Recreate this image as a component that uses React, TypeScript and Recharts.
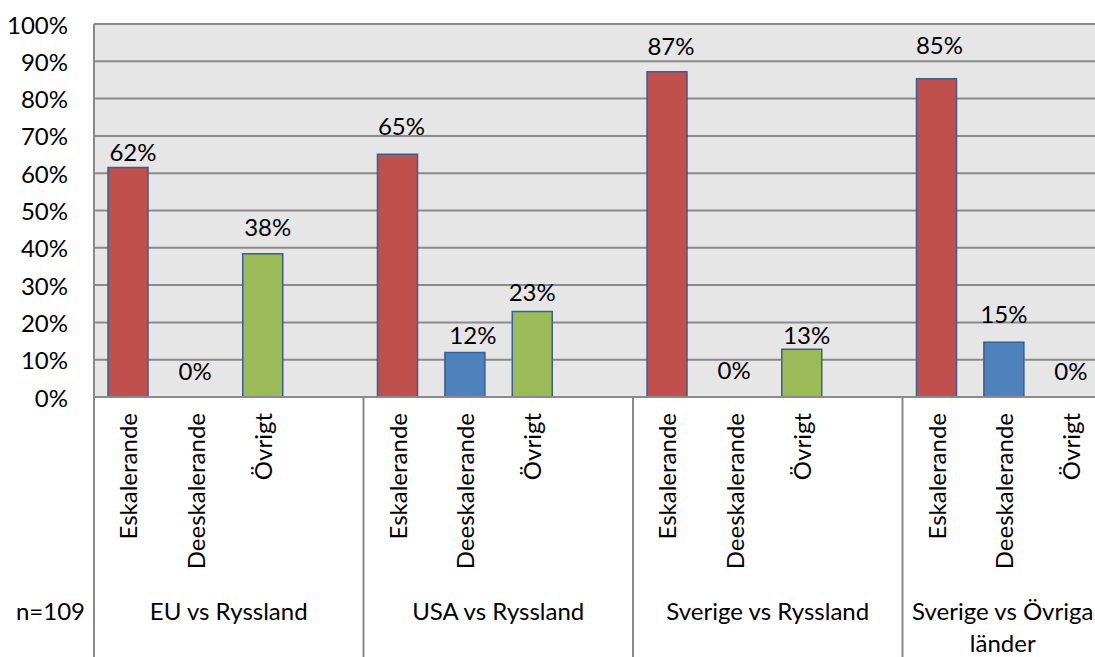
import React from 'react';
import { BarChart, Bar, XAxis, YAxis, CartesianGrid, Cell, LabelList } from 'recharts';

// ---- data ----
const groups = ['EU vs Ryssland', 'USA vs Ryssland', 'Sverige vs Ryssland', 'Sverige vs Övriga länder'];
const groupLabelLines = [['EU vs Ryssland'], ['USA vs Ryssland'], ['Sverige vs Ryssland'], ['Sverige vs Övriga', 'länder']];
const responses = ['Eskalerande', 'Deeskalerande', 'Övrigt'];
const eskalerande = [61.5, 65.1, 87.2, 85.3];
const deeskalerande = [0, 11.9, 0, 14.7];
const ovrigt = [38.4, 22.9, 12.8, 0];
const yTicks = [0, 10, 20, 30, 40, 50, 60, 70, 80, 90, 100];
const sampleLabel = 'n=109';

// ---- style ----
const COLORS: Record<string, string> = {
  Eskalerande: '#C0504D',
  Deeskalerande: '#4F81BD',
  'Övrigt': '#9BBB59',
};
const FONT = "Lato, 'Open Sans', sans-serif";
const FS = 24;
const VIEW_W = 1095;
const VIEW_H = 657;
const CHART_W = 1200;
const LEFT = 94;
const RIGHT_M = 28;
const TOP = 24;
const XAXIS_H = 260;
const AXIS_Y = VIEW_H - XAXIS_H;
const SLOTS_PER_GROUP = 4;
const GRID = '#8A8A8A';
// label nudges per slot: [dx, lift above bar top]
const labelNudge: [number, number][] = [
  [5, 16], [0, 27], [5, 27], [0, 0],
  [4, 29], [8, 18], [0, 20], [0, 0],
  [4, 26], [0, 28], [5, 15], [0, 0],
  [3, 34], [0, 29], [0, 27], [0, 0],
];

type Row = { key: string; group: number; resp: string; value: number | null };
const rows: Row[] = [];
groups.forEach((g, gi) => {
  const vals = [eskalerande[gi], deeskalerande[gi], ovrigt[gi]];
  responses.forEach((r, ri) => rows.push({ key: `${gi}-${ri}`, group: gi, resp: r, value: vals[ri] }));
  rows.push({ key: `${gi}-gap`, group: gi, resp: '', value: null });
});

const SLOT = (CHART_W - LEFT - RIGHT_M) / rows.length;
const slotOf = (cx: number) => Math.round((cx - LEFT) / SLOT - 0.5);

const ValueText = ({ cx, top, value, slot }: { cx: number; top: number; value: number; slot: number }) => {
  const [dx, lift] = labelNudge[slot] || [0, 20];
  return (
    <text x={cx + dx} y={top - lift} textAnchor="middle" dominantBaseline="central" fontFamily={FONT} fontSize={FS} fill="#000">
      {Math.round(value)}%
    </text>
  );
};

const YTick = (props: any) => {
  const { y, payload } = props;
  return (
    <text x={LEFT - 26} y={y} textAnchor="end" dominantBaseline="central" fontFamily={FONT} fontSize={FS} fill="#000">
      {payload.value}%
    </text>
  );
};

const XTick = (props: any) => {
  const { x, index } = props;
  const row = rows[index];
  if (!row) return null;
  const parts: React.ReactNode[] = [];
  if (row.resp) {
    parts.push(
      <text
        key="r"
        x={x}
        y={AXIS_Y + 16}
        transform={`rotate(-90 ${x} ${AXIS_Y + 16})`}
        textAnchor="end"
        dominantBaseline="central"
        fontFamily={FONT}
        fontSize={FS}
        fill="#000"
      >
        {row.resp}
      </text>
    );
  }
  // zero-height bars get no LabelList entry, so their value label is drawn at the axis baseline here
  if (row.value === 0) {
    parts.push(<ValueText key="z" cx={x} top={AXIS_Y} value={0} slot={index} />);
  }
  if (index % SLOTS_PER_GROUP === 0) {
    const start = x - SLOT / 2;
    const center = Math.min(start + (SLOT * SLOTS_PER_GROUP) / 2, (start + VIEW_W) / 2 + 4);
    const lines = groupLabelLines[row.group];
    parts.push(<line key="s" x1={start} x2={start} y1={AXIS_Y} y2={VIEW_H} stroke={GRID} strokeWidth={2} />);
    lines.forEach((ln, li) => {
      parts.push(
        <text
          key={`g${li}`}
          x={center}
          y={AXIS_Y + 213 + li * 32}
          textAnchor="middle"
          dominantBaseline="central"
          fontFamily={FONT}
          fontSize={FS}
          fill="#000"
        >
          {ln}
        </text>
      );
    });
    if (index === 0) {
      parts.push(
        <text key="n" x={start - 9} y={AXIS_Y + 213} textAnchor="end" dominantBaseline="central" fontFamily={FONT} fontSize={FS} fill="#000">
          {sampleLabel}
        </text>
      );
    }
  }
  return <g>{parts}</g>;
};

const BarLabel = (props: any) => {
  const { x, y, width, value } = props;
  if (value === null || value === undefined || !value) return null;
  const cx = Number(x) + Number(width) / 2;
  return <ValueText cx={cx} top={Number(y)} value={Number(value)} slot={slotOf(cx)} />;
};

export default function App() {
  return (
    <div style={{ position: 'absolute', left: 0, top: 0, width: VIEW_W, height: VIEW_H, overflow: 'hidden', background: '#fff' }}>
      <BarChart
        width={CHART_W}
        height={VIEW_H}
        data={rows}
        margin={{ top: TOP, right: RIGHT_M, bottom: 0, left: 0 }}
      >
        <CartesianGrid horizontal vertical={false} fill="#E6E6E6" stroke={GRID} strokeWidth={2} />
        <YAxis
          width={LEFT}
          domain={[0, 100]}
          ticks={yTicks}
          interval={0}
          tickLine={false}
          axisLine={{ stroke: GRID, strokeWidth: 2 }}
          tick={<YTick />}
        />
        <XAxis
          dataKey="key"
          height={XAXIS_H}
          interval={0}
          tickLine={false}
          tickSize={0}
          axisLine={{ stroke: GRID, strokeWidth: 2 }}
          tick={<XTick />}
        />
        <Bar dataKey="value" barSize={40} isAnimationActive={false} stroke="#3A5F8E" strokeWidth={1.5}>
          {rows.map((r) => (
            <Cell key={r.key} fill={COLORS[r.resp] || 'transparent'} />
          ))}
          <LabelList dataKey="value" content={<BarLabel />} />
        </Bar>
      </BarChart>
    </div>
  );
}
